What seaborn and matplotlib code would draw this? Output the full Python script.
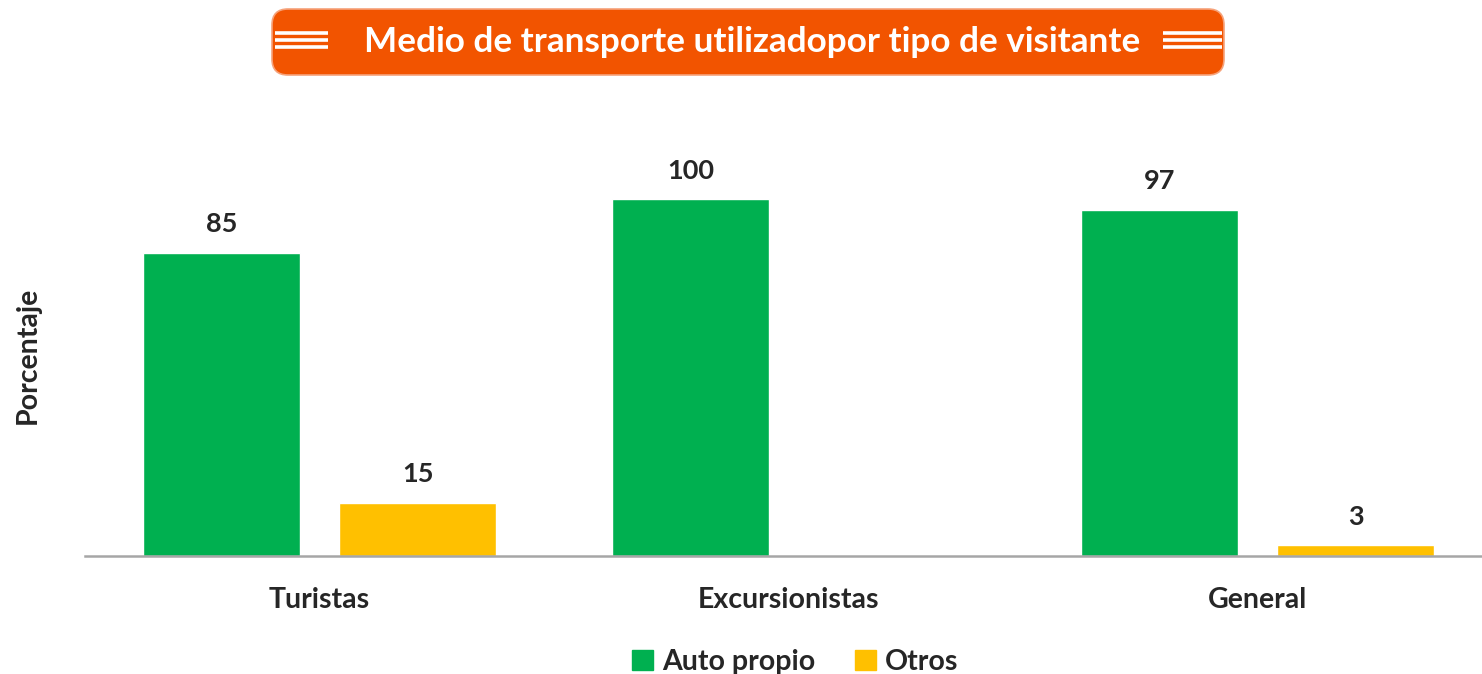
import matplotlib
matplotlib.use('Agg')
import matplotlib.pyplot as plt
import seaborn as sns
import pandas as pd
from matplotlib.patches import FancyBboxPatch, Rectangle

# Datos
categorias = ['Turistas', 'Excursionistas', 'General']
series = ['Auto propio', 'Otros']
auto_propio = [85, 100, 97]
otros = [15, 0, 3]
colores = ['#00B050', '#FFC000']

data = pd.DataFrame({
    'tipo': categorias * 2,
    'medio': [series[0]] * 3 + [series[1]] * 3,
    'porcentaje': auto_propio + otros,
})

sns.set_style('white')
plt.rcParams['font.family'] = ['Lato', 'DejaVu Sans']

W, H = 1482, 674
fig = plt.figure(figsize=(W / 100, H / 100), dpi=100)

# fondo para el banner del titulo (coordenadas en pixeles)
bg = fig.add_axes([0, 0, 1, 1])
bg.set_xlim(0, W)
bg.set_ylim(H, 0)
bg.axis('off')
bg.patch.set_alpha(0)
bg.add_patch(FancyBboxPatch((272, 9), 952, 66, boxstyle='round,pad=0,rounding_size=16',
                            facecolor='#F25400', edgecolor='#F6A27A', lw=1.2))
for y in (33, 40, 47):
    bg.plot([275, 328], [y, y], color='white', lw=2.6, solid_capstyle='butt')
    bg.plot([1163, 1222], [y, y], color='white', lw=2.6, solid_capstyle='butt')
bg.text(752, 42, 'Medio de transporte utilizadopor tipo de visitante', color='white',
        fontsize=25.3, fontweight='bold', ha='center', va='center')

# grafico principal
ax = fig.add_axes([85 / W, 118 / H, 1 - 85 / W, 444 / H])
sns.barplot(data=data, x='tipo', y='porcentaje', hue='medio', palette=colores,
            saturation=1, width=0.836, gap=0.2, ax=ax, legend=False)

for cont in ax.containers:
    etiquetas = [f'{b.get_height():g}' if b.get_height() > 0 else '' for b in cont]
    ax.bar_label(cont, labels=etiquetas, padding=12, fontsize=19.5, fontweight='bold')

ax.set_ylim(0, 124.5)
ax.set_xlim(-0.5, 2.478)
ax.set_yticks([])
ax.set_xlabel('')
ax.set_ylabel('')
for s in ('left', 'top', 'right'):
    ax.spines[s].set_visible(False)
ax.spines['bottom'].set_color('#A6A6A6')
ax.spines['bottom'].set_linewidth(1.8)
ax.tick_params(axis='x', length=0, pad=22, labelsize=20.5)
for t in ax.get_xticklabels():
    t.set_fontweight('bold')

fig.text(28 / W, 1 - 355 / H, 'Porcentaje', rotation=90, ha='center', va='center',
         fontsize=20.5, fontweight='bold')

handles = [Rectangle((0, 0), 1, 1, color=c) for c in colores]
fig.legend(handles, series, loc='center', bbox_to_anchor=(795 / W, 1 - 662 / H), ncol=2,
           frameon=False, handlelength=0.75, handleheight=0.75, handletextpad=0.3,
           columnspacing=1.4, prop={'size': 20.5, 'weight': 'bold'})

fig.savefig('out.png', dpi=100)
